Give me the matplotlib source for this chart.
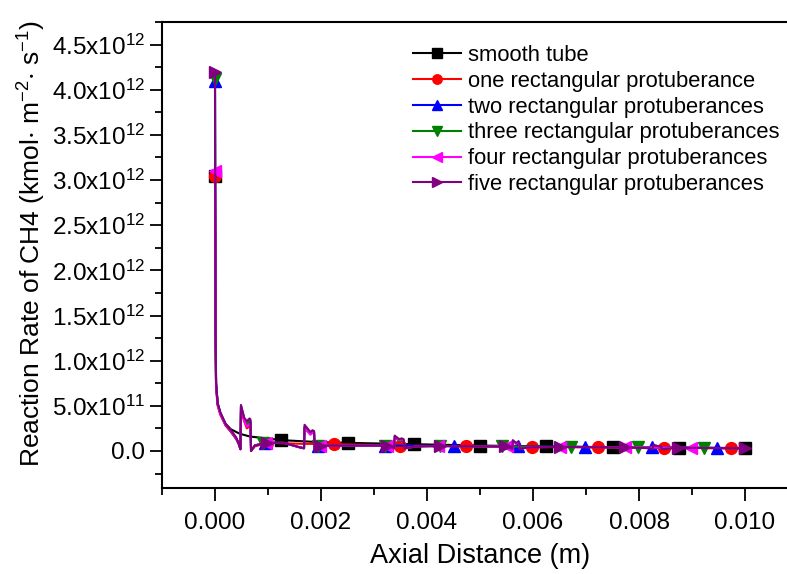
import numpy as np
import matplotlib
matplotlib.use("Agg")
import matplotlib.pyplot as plt
from matplotlib.ticker import MultipleLocator, FuncFormatter

plt.rcParams["font.family"] = ["Liberation Sans", "DejaVu Sans"]
plt.rcParams["mathtext.fontset"] = "custom"
plt.rcParams["mathtext.rm"] = "Liberation Sans"
plt.rcParams["mathtext.default"] = "regular"

# reaction rate values are in units of 1e12 kmol m^-2 s^-1
smooth_x = [0, 0.00001, 0.00002, 0.00005, 0.0001, 0.0002, 0.0003, 0.00047,
            0.00066, 0.00097, 0.00125, 0.0019, 0.0025, 0.00375, 0.005,
            0.00625, 0.0075, 0.00875, 0.01]
smooth_y = [3.05, 1.40, 0.75, 0.53, 0.42, 0.30, 0.24, 0.19,
            0.16, 0.14, 0.12, 0.10, 0.09, 0.075, 0.06,
            0.05, 0.04, 0.035, 0.03]
smooth_mark = [0, 0.00125, 0.0025, 0.00375, 0.005, 0.00625, 0.0075, 0.00875, 0.01]

one_x = [0, 0.00001, 0.00002, 0.00005, 0.0001, 0.0002, 0.0003, 0.0004,
         0.00045, 0.00048, 0.00049, 0.00055, 0.0006, 0.00065, 0.00067,
         0.00068, 0.00075, 0.00099, 0.0016, 0.00224, 0.00349, 0.00473,
         0.00599, 0.00723, 0.00848, 0.00974, 0.01]
one_y = [3.05, 1.30, 0.70, 0.50, 0.40, 0.28, 0.21, 0.13,
         0.07, 0.02, 0.44, 0.33, 0.25, 0.27, 0.26,
         0.0, 0.05, 0.09, 0.08, 0.075, 0.06, 0.05,
         0.045, 0.04, 0.035, 0.03, 0.03]
one_mark = [0, 0.00099, 0.00224, 0.00349, 0.00473, 0.00599, 0.00723, 0.00848, 0.00974]

two_x = [0, 0.00001, 0.00002, 0.00005, 0.0001, 0.0002, 0.0003, 0.0004,
         0.00045, 0.00048, 0.00049, 0.00055, 0.0006, 0.00065, 0.00067,
         0.00068, 0.00075, 0.00094, 0.0013, 0.0016, 0.00168, 0.00169,
         0.0018, 0.00184, 0.00187, 0.00188, 0.00195, 0.00321, 0.0045,
         0.00572, 0.00698, 0.00824, 0.00948, 0.01]
two_y = [4.10, 1.40, 0.74, 0.52, 0.42, 0.29, 0.22, 0.14,
         0.08, 0.02, 0.49, 0.36, 0.29, 0.33, 0.32,
         0.0, 0.06, 0.09, 0.09, 0.04, 0.03, 0.26,
         0.19, 0.21, 0.20, 0.02, 0.06, 0.06, 0.055,
         0.05, 0.045, 0.04, 0.035, 0.03]
two_mark = [0, 0.00094, 0.00195, 0.00321, 0.0045, 0.00572, 0.00698, 0.00824, 0.00948]

three_x = [0, 0.00001, 0.00002, 0.00005, 0.0001, 0.0002, 0.0003, 0.0004,
           0.00045, 0.00048, 0.00049, 0.00055, 0.0006, 0.00065, 0.00067,
           0.00068, 0.00075, 0.0009, 0.0013, 0.0016, 0.00168, 0.00169,
           0.0018, 0.00184, 0.00187, 0.00188, 0.00195, 0.0032, 0.00335,
           0.00338, 0.00339, 0.00348, 0.00352, 0.00356, 0.00357, 0.0038,
           0.00424, 0.00541, 0.00672, 0.00798, 0.00922, 0.01]
three_y = [4.12, 1.40, 0.74, 0.52, 0.42, 0.29, 0.22, 0.14,
           0.08, 0.02, 0.50, 0.36, 0.30, 0.34, 0.33,
           0.0, 0.06, 0.09, 0.09, 0.04, 0.03, 0.27,
           0.20, 0.22, 0.21, 0.02, 0.06, 0.06, 0.04,
           0.03, 0.15, 0.11, 0.12, 0.11, 0.03, 0.05,
           0.055, 0.05, 0.045, 0.04, 0.035, 0.03]
three_mark = [0, 0.0009, 0.00195, 0.0032, 0.00424, 0.00541, 0.00672, 0.00798, 0.00922]

four_x = [0, 0.00001, 0.00002, 0.00005, 0.0001, 0.0002, 0.0003, 0.0004,
          0.00045, 0.00048, 0.00049, 0.00055, 0.0006, 0.00065, 0.00067,
          0.00068, 0.00075, 0.00097, 0.0013, 0.0016, 0.00168, 0.00169,
          0.0018, 0.00184, 0.00187, 0.00188, 0.00198, 0.00325, 0.00335,
          0.00338, 0.00339, 0.00348, 0.00352, 0.00356, 0.00357, 0.0038,
          0.00421, 0.0055, 0.00558, 0.00561, 0.00562, 0.00568, 0.00571,
          0.00574, 0.00575, 0.0059, 0.00651, 0.00774, 0.00899, 0.01]
four_y = [3.10, 1.35, 0.72, 0.51, 0.41, 0.29, 0.22, 0.14,
          0.08, 0.02, 0.48, 0.34, 0.27, 0.30, 0.29,
          0.0, 0.06, 0.09, 0.09, 0.04, 0.03, 0.25,
          0.18, 0.20, 0.19, 0.02, 0.06, 0.06, 0.04,
          0.03, 0.16, 0.12, 0.13, 0.12, 0.03, 0.05,
          0.055, 0.05, 0.03, 0.02, 0.11, 0.08, 0.09,
          0.08, 0.02, 0.04, 0.045, 0.04, 0.035, 0.03]
four_mark = [0, 0.00097, 0.00198, 0.00325, 0.00421, 0.0055, 0.00651, 0.00774, 0.00899]

five_x = [0, 0.00001, 0.00002, 0.00005, 0.0001, 0.0002, 0.0003, 0.0004,
          0.00045, 0.00048, 0.00049, 0.00055, 0.0006, 0.00065, 0.00067,
          0.00068, 0.00075, 0.00098, 0.0013, 0.0016, 0.00168, 0.00169,
          0.0018, 0.00184, 0.00187, 0.00188, 0.00198, 0.00324, 0.00335,
          0.00338, 0.00339, 0.00348, 0.00352, 0.00356, 0.00357, 0.0038,
          0.00425, 0.00547, 0.00558, 0.00561, 0.00562, 0.00568, 0.00571,
          0.00574, 0.00575, 0.0059, 0.00651, 0.00774, 0.0082, 0.00826,
          0.00827, 0.00838, 0.00842, 0.00843, 0.00874, 0.01]
five_y = [4.20, 1.45, 0.76, 0.53, 0.43, 0.30, 0.23, 0.15,
          0.08, 0.02, 0.51, 0.37, 0.33, 0.36, 0.35,
          0.0, 0.06, 0.09, 0.09, 0.04, 0.03, 0.29,
          0.21, 0.23, 0.22, 0.02, 0.06, 0.06, 0.04,
          0.03, 0.17, 0.13, 0.14, 0.13, 0.03, 0.05,
          0.055, 0.05, 0.03, 0.02, 0.12, 0.09, 0.10,
          0.09, 0.02, 0.04, 0.045, 0.04, 0.03, 0.02,
          0.07, 0.05, 0.05, 0.02, 0.035, 0.03]
five_mark = [0, 0.00098, 0.00198, 0.00324, 0.00425, 0.00547, 0.00651, 0.00774, 0.00874, 0.01]

series = [
    ("smooth tube", smooth_x, smooth_y, smooth_mark, "black", "s"),
    ("one rectangular protuberance", one_x, one_y, one_mark, "#ff0000", "o"),
    ("two rectangular protuberances", two_x, two_y, two_mark, "#0000ff", "^"),
    ("three rectangular protuberances", three_x, three_y, three_mark, "#008000", "v"),
    ("four rectangular protuberances", four_x, four_y, four_mark, "#ff00ff", "<"),
    ("five rectangular protuberances", five_x, five_y, five_mark, "#800080", ">"),
]

fig = plt.figure(figsize=(7.87, 5.74), dpi=100)
ax = fig.add_axes([162 / 787, 1 - 488 / 574, 636 / 787, 466 / 574])

for label, xs, ys, marks, color, mk in series:
    xs = np.array(xs)
    ys = np.array(ys) * 1e12
    idx = [int(np.argmin(np.abs(xs - m))) for m in marks]
    ax.plot(xs, ys, color=color, lw=1.5, marker=mk, markersize=8.5,
            markevery=idx, label=label)

ax.set_xlim(-0.001, 0.011)
ax.set_ylim(-0.41e12, 4.75e12)
ax.xaxis.set_major_locator(MultipleLocator(0.002))
ax.xaxis.set_minor_locator(MultipleLocator(0.001))
ax.yaxis.set_major_locator(MultipleLocator(0.5e12))
ax.yaxis.set_minor_locator(MultipleLocator(0.25e12))
ax.xaxis.set_major_formatter(FuncFormatter(lambda v, p: f"{v:.3f}"))


def yfmt(v, pos):
    if abs(v) < 1:
        return "0.0"
    e = int(np.floor(np.log10(abs(v))))
    return f"{v / 10 ** e:.1f}x10$^{{{e}}}$"


ax.yaxis.set_major_formatter(FuncFormatter(yfmt))
ax.tick_params(which="major", direction="out", length=9, width=1.3,
               labelsize=17.5, top=False, right=False)
ax.tick_params(axis="x", which="major", pad=8)
ax.tick_params(axis="y", which="major", pad=3)
ax.tick_params(which="minor", direction="out", length=5, width=1.3,
               top=False, right=False)
for s in ax.spines.values():
    s.set_linewidth(1.5)

ax.set_xlabel("Axial Distance (m)", fontsize=19.5, labelpad=7)
ax.set_ylabel("Reaction Rate of CH4 (kmol$\\cdot$ m$^{-2}$$\\cdot$ s$^{-1}$)",
              fontsize=19)
ax.yaxis.set_label_coords(-0.18, 0.525)

fig.legend(loc="upper left", bbox_to_anchor=(413 / 787, 1 - 45 / 574),
           bbox_transform=fig.transFigure, frameon=False, fontsize=15.8,
           handlelength=2.2, handletextpad=0.3, labelspacing=0.22,
           borderpad=0, borderaxespad=0, markerscale=0.8)

fig.savefig("out.png", dpi=100)
